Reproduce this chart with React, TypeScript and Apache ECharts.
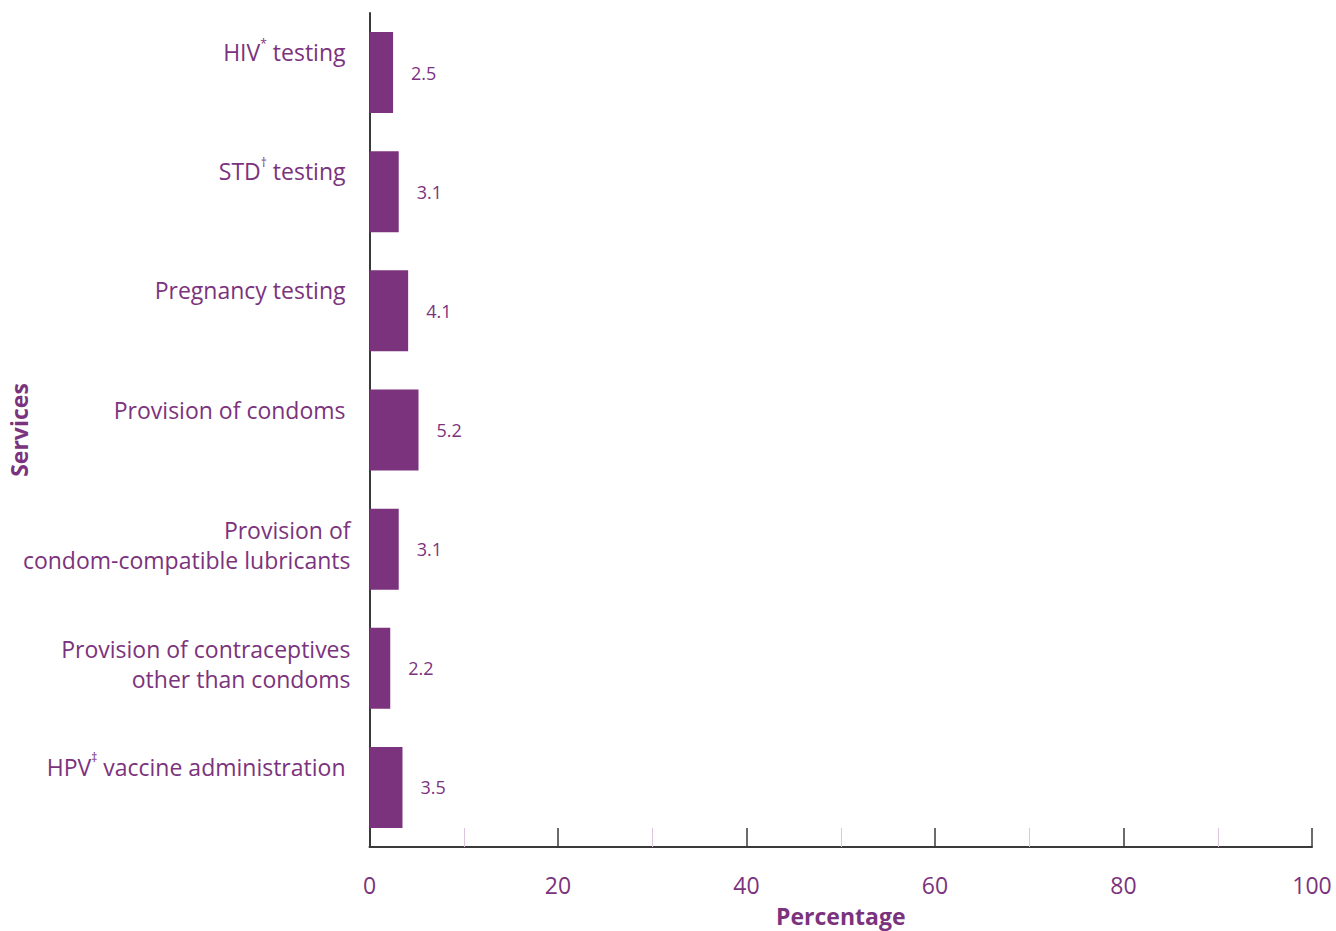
import React, { useEffect, useRef } from "react";
import * as echarts from "echarts";

const categories = [
  "HIV{sup|*} testing",
  "STD{sup|†} testing",
  "Pregnancy testing",
  "Provision of condoms",
  "Provision of\ncondom-compatible lubricants",
  "Provision of contraceptives\nother than condoms",
  "HPV{sup|‡} vaccine administration",
];
const values = [2.5, 3.1, 4.1, 5.2, 3.1, 2.2, 3.5];
const xTicks = [0, 20, 40, 60, 80, 100];

const PURPLE = "#7B337D";
const FONT = "Open Sans";

export default function App() {
  const ref = useRef<HTMLDivElement>(null);
  useEffect(() => {
    const chart = echarts.init(ref.current!, undefined, { renderer: "svg" });
    const yData = categories.map((c) => {
      const twoLine = c.includes("\n");
      return {
        value: c,
        textStyle: twoLine
          ? { padding: [0, 0, 8, 0] }
          : { padding: [0, 5, 41, 0] },
      };
    });
    chart.setOption({
      animation: false,
      grid: {
        left: 369.5,
        right: 24,
        top: 13,
        bottom: 84,
        containLabel: false,
        outerBoundsMode: "none",
      },
      xAxis: {
        type: "value",
        min: xTicks[0],
        max: xTicks[xTicks.length - 1],
        interval: 20,
        name: "Percentage",
        nameLocation: "middle",
        nameGap: 57,
        nameMoveOverlap: false,
        nameTextStyle: { color: PURPLE, fontFamily: FONT, fontWeight: "bold", fontSize: 23 },
        axisLine: { show: true, lineStyle: { color: "#3a3a3a", width: 2 } },
        axisTick: { show: true, inside: true, length: 19, lineStyle: { color: "#3a3a3a", width: 1.5 } },
        minorTick: { show: true, splitNumber: 2, length: 19, lineStyle: { color: "#dcc6dd", width: 1 } },
        splitLine: { show: false },
        axisLabel: { color: PURPLE, fontFamily: FONT, fontSize: 23, margin: 26 },
      },
      yAxis: {
        type: "category",
        inverse: true,
        data: yData,
        name: "Services",
        nameLocation: "middle",
        nameGap: 339,
        nameMoveOverlap: false,
        nameTextStyle: { color: PURPLE, fontFamily: FONT, fontWeight: "bold", fontSize: 23 },
        axisLine: { show: true, lineStyle: { color: "#3a3a3a", width: 2 } },
        axisTick: { show: false },
        axisLabel: {
          color: PURPLE,
          fontFamily: FONT,
          fontSize: 23,
          lineHeight: 30,
          margin: 19,
          align: "right",
          rich: {
            sup: { fontSize: 12, color: PURPLE, fontFamily: FONT, verticalAlign: "top", lineHeight: 12 },
          },
        },
      },
      series: [
        {
          type: "bar",
          data: values,
          barWidth: 81,
          itemStyle: { color: PURPLE },
          label: {
            show: true,
            position: "right",
            distance: 18,
            color: PURPLE,
            fontFamily: FONT,
            fontSize: 18,
            formatter: (p: any) => p.value.toFixed(1),
          },
        },
      ],
    });
    return () => chart.dispose();
  }, []);
  return <div ref={ref} style={{ width: 1336, height: 931, position: "absolute", left: 0, top: 0 }} />;
}
